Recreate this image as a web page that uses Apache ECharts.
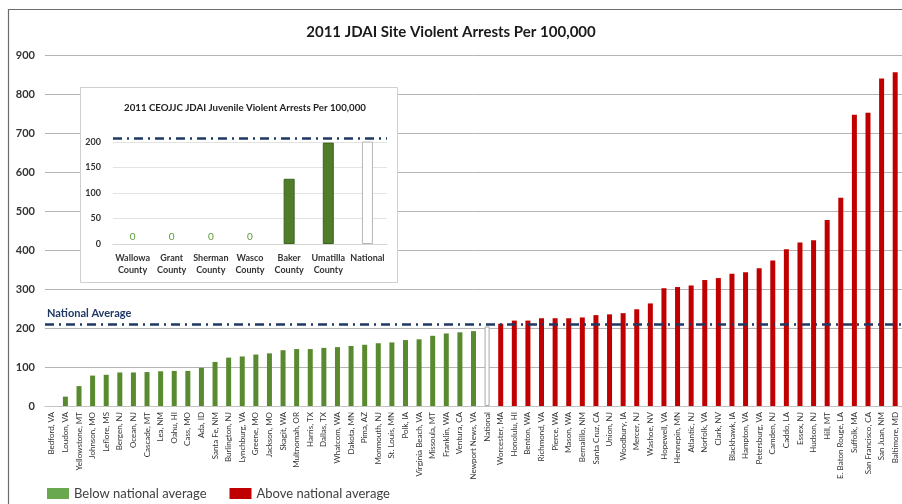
<!DOCTYPE html>
<html>
<head>
<meta charset="utf-8">
<script src="https://cdn.jsdelivr.net/npm/echarts@6/dist/echarts.min.js"></script>
<style>
  html, body { margin: 0; padding: 0; background: #fff; }
  #chart { width: 902px; height: 504px; }
</style>
</head>
<body>
<div id="chart"></div>
<script>
// Sites below the national rate (sorted ascending)
const belowSites = [
  'Bedford, VA', 'Loudon, VA', 'Yellowstone, MT', 'Johnson, MO', 'Leflore, MS',
  'Bergen, NJ', 'Ocean, NJ', 'Cascade, MT', 'Lea, NM', 'Oahu, HI', 'Cass, MO',
  'Ada, ID', 'Santa Fe, NM', 'Burlington, NJ', 'Lynchburg, VA', 'Greene, MO',
  'Jackson, MO', 'Skagit, WA', 'Multnomah, OR', 'Harris, TX', 'Dallas, TX',
  'Whatcom, WA', 'Dakota, MN', 'Pima, AZ', 'Monmouth, NJ', 'St. Louis, MN',
  'Polk, IA', 'Virginia Beach, VA', 'Missoula, MT', 'Franklin, WA',
  'Ventura, CA', 'Newport News, VA'
];
const belowValues = [
  0, 24, 51, 78, 80, 86, 86, 87, 89, 90, 90, 98, 113, 124, 127, 132,
  135, 143, 146, 146, 149, 151, 154, 157, 161, 163, 169, 171, 180, 186,
  189, 192
];

const nationalLabel = 'National';
const nationalValue = 204;
const nationalAverage = 210;

// Sites above the national rate (sorted ascending)
const aboveSites = [
  'Worcester, MA', 'Honolulu, HI', 'Benton, WA', 'Richmond, VA', 'Pierce, WA',
  'Mason, WA', 'Bernalillo, NM', 'Santa Cruz, CA', 'Union, NJ', 'Woodbury, IA',
  'Mercer, NJ', 'Washoe, NV', 'Hopewell, VA', 'Hennepin, MN', 'Atlantic, NJ',
  'Norfolk, VA', 'Clark, NV', 'Blackhawk, IA', 'Hampton, VA', 'Petersburg, VA',
  'Camden, NJ', 'Caddo, LA', 'Essex, NJ', 'Hudson, NJ', 'Hill, MT',
  'E. Baton Rouge, LA', 'Suffolk, MA', 'San Francisco, CA', 'San Juan, NM',
  'Baltimore, MD'
];
const aboveValues = [
  211, 219, 219, 225, 225, 225, 227, 233, 235, 238, 248, 263, 302, 305, 309,
  323, 328, 339, 343, 353, 373, 402, 419, 425, 477, 534, 747, 752, 840, 856
];

const yTicks = { min: 0, max: 900, step: 100 };

// Oregon counties (inset)
const countyNames = [
  'Wallowa\nCounty', 'Grant\nCounty', 'Sherman\nCounty', 'Wasco\nCounty',
  'Baker\nCounty', 'Umatilla\nCounty', 'National'
];
const countyValues = [0, 0, 0, 0, 128, 199, 201];
const countyAverage = 207;
const countyTicks = { min: 0, max: 210, step: 50, lastLabel: 200 };

const GREEN = '#5a8a30';
const GREEN_LEGEND = '#6aa84f';
const RED = '#c00000';
const NAVY = '#1f3864';
const FONT = 'Lato, "Liberation Sans", sans-serif';

const categories = belowSites.concat([nationalLabel], aboveSites);
const nBelow = belowSites.length;
const nAbove = aboveSites.length;

const belowData = belowValues.concat(new Array(nAbove + 1).fill(null));
const nationalData = new Array(nBelow).fill(null).concat([nationalValue], new Array(nAbove).fill(null));
const aboveData = new Array(nBelow + 1).fill(null).concat(aboveValues);

const insetData = countyValues.map((v, i) => {
  const isNat = countyNames[i] === 'National';
  let style;
  if (isNat) style = { color: '#ffffff', borderColor: '#b5b5b5', borderWidth: 1 };
  else if (v === 0) style = { color: '#4f7d2a', borderWidth: 0 };
  else style = { color: '#4f7d2a', borderColor: '#3b6320', borderWidth: 1 };
  return { value: v, itemStyle: style };
});

const chart = echarts.init(document.getElementById('chart'), null, { renderer: 'canvas' });

chart.setOption({
  animation: false,
  backgroundColor: '#ffffff',
  textStyle: { fontFamily: FONT },
  title: [
    {
      text: '2011 JDAI Site Violent Arrests Per 100,000',
      left: 'center', top: 20,
      textStyle: { fontFamily: FONT, fontSize: 15, fontWeight: 'bold', color: '#1a1a1a' }
    },
    {
      text: '2011 CEOJJC JDAI Juvenile Violent Arrests Per 100,000',
      left: 240, top: 98, textAlign: 'center', z: 6,
      textStyle: { fontFamily: FONT, fontSize: 9.7, fontWeight: 'bold', color: '#222' }
    }
  ],
  legend: {
    left: 47, top: 487, padding: 0,
    itemWidth: 22, itemHeight: 11, itemGap: 23,
    icon: 'rect',
    textStyle: { fontFamily: FONT, fontSize: 13, color: '#404040' },
    data: [
      { name: 'Below national average', itemStyle: { color: GREEN_LEGEND } },
      { name: 'Above national average', itemStyle: { color: RED } }
    ]
  },
  graphic: [
    {
      type: 'rect', z: 0,
      shape: { x: 8.5, y: 9.5, width: 1000, height: 1000 },
      style: { fill: 'none', stroke: '#6b6b6b', lineWidth: 1.2 }
    },
    {
      type: 'rect', z: 1,
      shape: { x: 80.5, y: 87.5, width: 317, height: 195 },
      style: { fill: '#ffffff', stroke: '#cfcfcf', lineWidth: 1 }
    }
  ],
  grid: [
    { left: 45, top: 55, right: -2, bottom: 98 },
    { left: 113, top: 137, width: 274, height: 107, z: 3 }
  ],
  xAxis: [
    {
      type: 'category', gridIndex: 0, data: categories,
      axisLine: { lineStyle: { color: '#c4c4c4' } },
      axisTick: { show: false },
      axisLabel: {
        interval: 0, rotate: 90, fontSize: 8, margin: 6,
        color: '#333', fontFamily: FONT
      }
    },
    {
      type: 'category', gridIndex: 1, data: countyNames, z: 4,
      axisLine: { lineStyle: { color: '#d4d4d4' } },
      axisTick: { show: false },
      axisLabel: {
        interval: 0, fontSize: 9, fontWeight: 'bold', margin: 8,
        lineHeight: 12, color: '#333', fontFamily: FONT
      }
    }
  ],
  yAxis: [
    {
      type: 'value', gridIndex: 0,
      min: yTicks.min, max: yTicks.max, interval: yTicks.step,
      axisLine: { show: false }, axisTick: { show: false },
      splitLine: { lineStyle: { color: '#b4b4b4', width: 1 } },
      axisLabel: { fontSize: 11, margin: 10, color: '#333', fontFamily: FONT, fontWeight: 'bold' }
    },
    {
      type: 'value', gridIndex: 1, z: 4,
      min: countyTicks.min, max: countyTicks.max, interval: countyTicks.step,
      axisLine: { show: false }, axisTick: { show: false },
      splitLine: { showMaxLine: false, lineStyle: { color: '#e3e3e3', width: 1 } },
      axisLabel: {
        fontSize: 9, fontWeight: 'bold', margin: 12, color: '#333', fontFamily: FONT,
        showMaxLabel: false,
        formatter: v => (v > countyTicks.lastLabel ? '' : String(v))
      }
    }
  ],
  series: [
    {
      name: 'Below national average', type: 'bar',
      xAxisIndex: 0, yAxisIndex: 0,
      data: belowData, barWidth: 5, barGap: '-100%',
      itemStyle: { color: GREEN },
      markLine: {
        silent: true, symbol: 'none',
        lineStyle: { color: NAVY, width: 2.5, type: [9, 5, 2, 5] },
        label: {
          show: true, position: 'insideStartTop', distance: [2, 5],
          formatter: 'National Average',
          color: NAVY, fontSize: 11, fontWeight: 'bold', fontFamily: FONT
        },
        data: [{ yAxis: nationalAverage }]
      }
    },
    {
      name: 'National', type: 'bar',
      xAxisIndex: 0, yAxisIndex: 0,
      data: nationalData, barWidth: 5, barGap: '-100%',
      itemStyle: { color: '#ffffff', borderColor: '#a8a8a8', borderWidth: 1 }
    },
    {
      name: 'Above national average', type: 'bar',
      xAxisIndex: 0, yAxisIndex: 0,
      data: aboveData, barWidth: 5, barGap: '-100%',
      itemStyle: { color: RED }
    },
    {
      name: 'Oregon counties', type: 'bar',
      xAxisIndex: 1, yAxisIndex: 1, z: 5,
      data: insetData, barWidth: 11,
      label: {
        show: true, position: 'top', distance: 2,
        fontSize: 10, color: '#5a9a35', fontFamily: FONT,
        formatter: p => (p.value === 0 ? '0' : '')
      },
      markLine: {
        silent: true, symbol: 'none',
        lineStyle: { color: NAVY, width: 2.5, type: [9, 5, 2, 5] },
        label: { show: false },
        data: [{ yAxis: countyAverage }]
      }
    }
  ]
});
</script>
</body>
</html>
